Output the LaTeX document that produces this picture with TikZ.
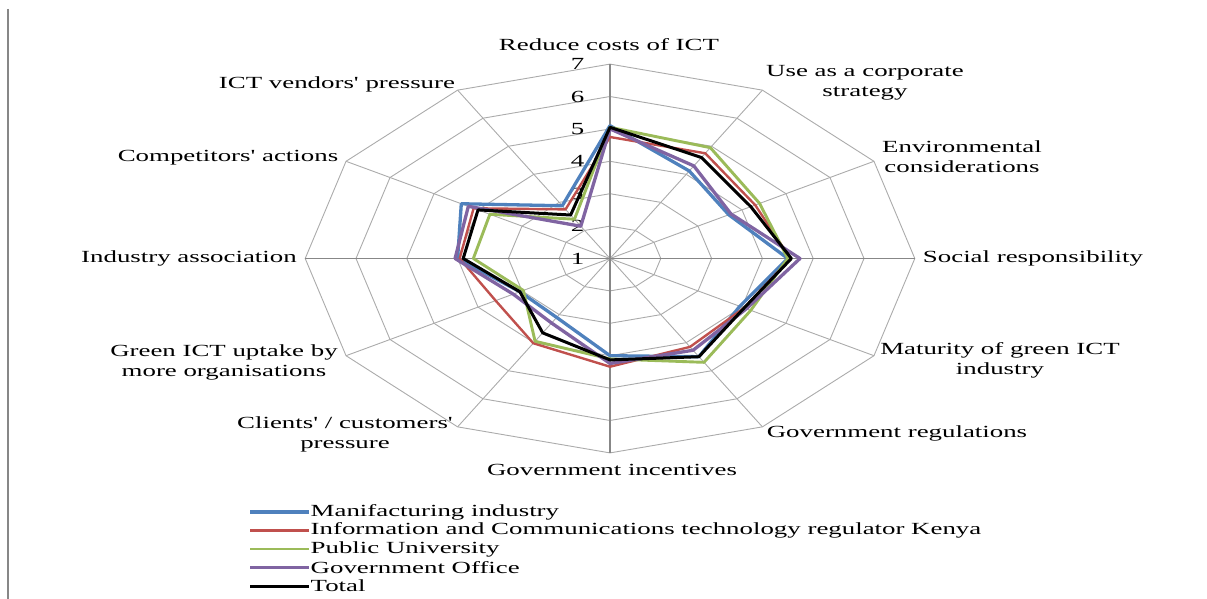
\documentclass[tikz,border=0pt]{standalone}
\usepackage{fontspec}
\setmainfont{Liberation Serif}
\newfontfamily\widefont[FakeStretch=1.58]{Liberation Serif}
\usetikzlibrary{positioning}

\definecolor{manuf}{HTML}{4F81BD}
\definecolor{ictreg}{HTML}{C0504D}
\definecolor{univ}{HTML}{9BBB59}
\definecolor{govoff}{HTML}{8064A2}
\definecolor{gridgray}{HTML}{ABABAB}
\definecolor{axisgray}{HTML}{878787}

\tikzset{
  lbl/.style={font=\widefont\fontsize{17}{20}\selectfont, align=center, inner sep=0pt},
  leg/.style={font=\widefont\fontsize{17}{20}\selectfont, anchor=west, inner sep=1.5pt},
  manufline/.style={manuf, line width=3.3pt},
  ictline/.style={ictreg, line width=2.4pt},
  univline/.style={univ, line width=2.9pt},
  govline/.style={govoff, line width=3.3pt},
  totline/.style={black, line width=3pt}
}

% #1 name, #2 style, #3 the twelve scores
\newcommand{\radarline}[3]{
  \foreach \v [count=\i from 0] in {#3} {
    \coordinate (#1-\i) at ({90-30*\i}:{\v-1});
  }
  \draw[#2, line join=round] (#1-0) -- (#1-1) -- (#1-2) -- (#1-3) -- (#1-4) -- (#1-5) -- (#1-6)
    -- (#1-7) -- (#1-8) -- (#1-9) -- (#1-10) -- (#1-11) -- cycle;
}

\begin{document}
\begin{tikzpicture}[x=1pt,y=-1pt]
\useasboundingbox (0,0) rectangle (1207,599);
\coordinate (frametop) at (8,9);
\coordinate (framebot) at (8,599);
\draw[axisgray, line width=1.5pt] (frametop) -- (framebot);

\begin{scope}[shift={(610,258.5)}, x=50.8pt, y=32.4pt]
\foreach \r in {1,...,6} {
  \draw[gridgray, line width=0.9pt] (90:\r) \foreach \a in {60,30,...,-240} { -- (\a:\r) } -- cycle;
}
\foreach \a in {30,60,120,150,210,240,300,330} {
  \draw[gridgray, line width=0.9pt] (0,0) -- (\a:6);
}
\foreach \a in {0,90,180,270} {
  \draw[axisgray, line width=1.4pt] (0,0) -- (\a:6);
}
\foreach \v in {1,...,7} {
  \node[lbl] (num\v) at (-0.64,\v-1) {\v};
}
\radarline{manu}{manufline}{5.1,4.12,3.7,4.5,3.95,4.5,4.0,3.1,3.05,4.0,4.38,2.88}
\radarline{ict}{ictline}{4.75,4.75,4.3,4.55,4.05,4.15,4.34,4.02,3.6,3.96,4.1,2.75}
\radarline{univ}{univline}{5.05,4.95,4.4,4.5,4.2,4.7,4.1,3.95,2.97,3.69,3.73,2.4}
\radarline{gov}{govline}{5.0,4.3,3.75,4.74,4.1,4.27,4.24,3.3,3.2,4.05,4.22,2.15}
\radarline{tot}{totline}{5.05,4.6,4.2,4.57,4.05,4.5,4.13,3.65,3.05,3.89,4.0,2.55}
\end{scope}

\node[lbl] (reduce) at (609,45) {Reduce costs of ICT};
\node[lbl] (strategy) at (865,83) {Use as a corporate\\strategy};
\node[lbl] (environ) at (962,157) {Environmental\\considerations};
\node[lbl] (social) at (1033,258) {Social responsibility};
\node[lbl] (maturity) at (1000,360) {Maturity of green ICT\\industry};
\node[lbl] (regul) at (897,433) {Government regulations};
\node[lbl] (incent) at (612,470) {Government incentives};
\node[lbl] (clients) at (345,434) {Clients' / customers'\\pressure};
\node[lbl] (uptake) at (224,362) {Green ICT uptake by\\more organisations};
\node[lbl] (industry) at (189,258) {Industry association};
\node[lbl] (compet) at (228,158) {Competitors' actions};
\node[lbl] (vendors) at (337,84) {ICT vendors' pressure};

\foreach \nm/\sty/\txt [count=\k from 0] in {
    manu/manufline/Manifacturing industry,
    ict/ictline/Information and Communications technology regulator Kenya,
    univ/univline/Public University,
    gov/govline/Government Office,
    tot/totline/Total} {
  \coordinate (key-\nm) at (250,512+18.5*\k);
  \node[leg] (leg-\nm) at (309,512+18.5*\k) {\txt};
  \draw[\sty] (key-\nm) -- (leg-\nm.west);
}
\end{tikzpicture}
\end{document}
